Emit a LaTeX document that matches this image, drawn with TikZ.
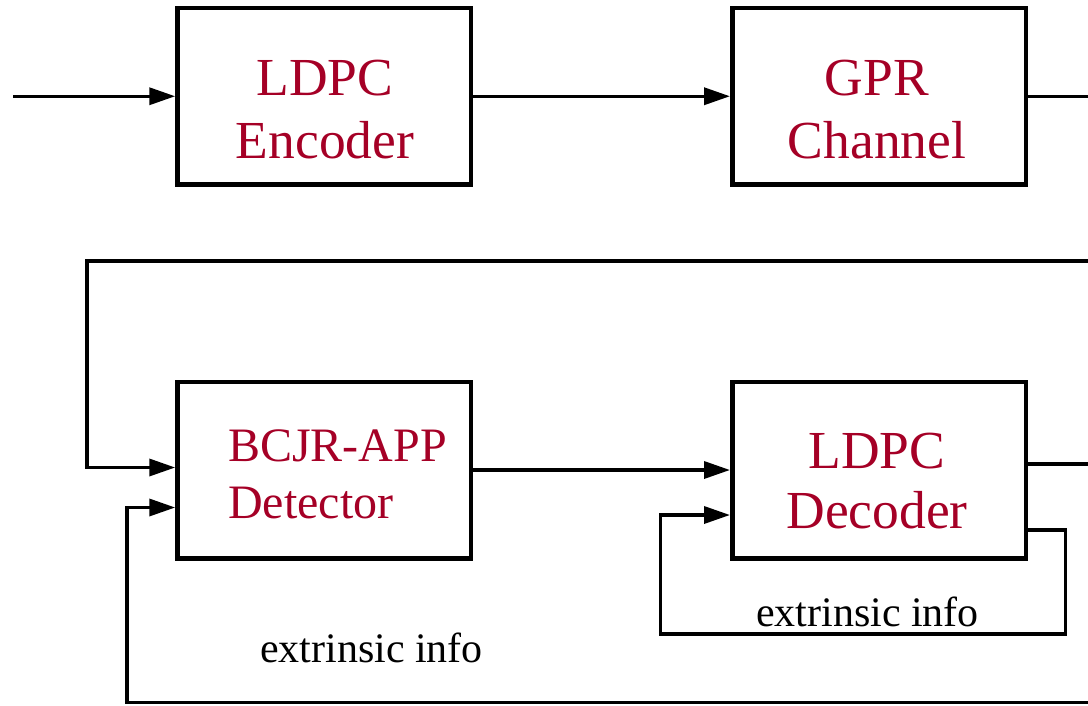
\documentclass[tikz,border=0pt]{standalone}
\usepackage{fontspec}
\setmainfont{Liberation Serif}
\usetikzlibrary{arrows.meta,calc}
\definecolor{boxred}{RGB}{165,0,38}
\begin{document}
\begin{tikzpicture}[x=1pt,y=-1pt,
  blk/.style={draw, line width=4.5pt, minimum width=293.5pt, minimum height=176.5pt, inner sep=0pt},
  conn/.style={line width=3.5pt},
  arr/.style={conn, -{Triangle[length=26pt,width=17pt]}},
  bigtxt/.style={text=boxred, font=\fontsize{53.5}{63}\selectfont, inner sep=0pt, anchor=base},
  midtxt/.style={text=boxred, font=\fontsize{48}{57}\selectfont, inner sep=0pt, anchor=base west},
  lbl/.style={font=\fontsize{42}{50}\selectfont, inner sep=0pt, anchor=base}]
\useasboundingbox (0,0) rectangle (1088,705);

% boxes
\node[blk] (enc) at (324.25,96.25) {};
\node[blk] (gpr) at (879,96.25) {};
\node[blk] (bcjr) at (324.25,470) {};
\node[blk] (dec) at (879,470) {};

% box texts
\node[bigtxt] (encA) at (325,95) {LDPC};
\node[bigtxt] (encB) at (325,158) {Encoder};
\node[bigtxt] (gprA) at (877,95) {GPR};
\node[bigtxt] (gprB) at (877,158) {Channel};
\node[midtxt] (bcjrA) at (228,461) {BCJR-APP};
\node[midtxt] (bcjrB) at (228,518) {Detector};
\node[bigtxt] (decA) at (877,468) {LDPC};
\node[bigtxt] (decB) at (877,528) {Decoder};

% labels
\node[lbl] (ext1) at (867.5,626) {extrinsic info};
\node[lbl] (ext2) at (371.5,662) {extrinsic info};

% coordinates
\coordinate (in) at (13,96.25);
\coordinate (out1) at (1088,96.25);
\coordinate (fbR) at (1088,261);
\coordinate (fbL) at (87,261);
\coordinate (out2) at (1088,464);
\coordinate (btR) at (1088,702.5);
\coordinate (btL) at (127,702.5);
\coordinate (lpR) at (1065.5,634);
\coordinate (lpL) at (660.5,634);

% connectors
\draw[arr] (in) -- (enc.west);
\draw[arr] (enc.east) -- (gpr.west);
\draw[conn] (gpr.east) -- (out1);
\draw[arr] (fbR) -- (fbL) |- ($(bcjr.west)+(0,-2.5)$);
\draw[arr] (bcjr.east) -- (dec.west);
\draw[conn] ($(dec.east)+(0,-6)$) -- (out2);
\draw[arr] (btR) -- (btL) |- ($(bcjr.west)+(0,37.5)$);
\draw[arr] ($(dec.south east)+(0,-30.5)$) -| (lpR) -- (lpL) |- ($(dec.south west)+(0,-45.5)$);
\end{tikzpicture}
\end{document}
